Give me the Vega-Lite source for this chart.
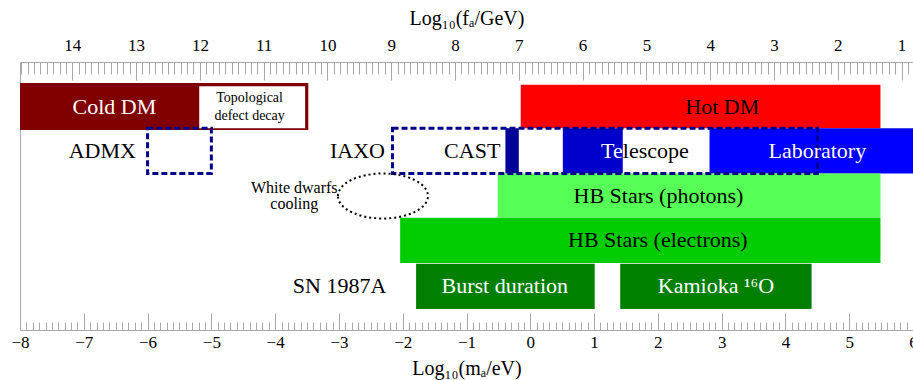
{
  "$schema": "https://vega.github.io/schema/vega-lite/v6.json",
  "width": 893,
  "height": 268,
  "autosize": {"type": "none"},
  "padding": {"left": 20, "top": 62, "right": 0, "bottom": 50},
  "background": "white",
  "config": {
    "view": {"stroke": null},
    "axis": {
      "grid": false,
      "labelFont": "Liberation Serif",
      "labelFontSize": 17,
      "labelColor": "black",
      "titleFont": "Liberation Serif",
      "titleFontSize": 20,
      "titleFontWeight": "normal",
      "titleColor": "black",
      "domainColor": "#a8a8a8",
      "tickColor": "#a8a8a8",
      "domainWidth": 1,
      "tickWidth": 1
    }
  },
  "datasets": {
    "bars": [
      {"name": "Cold DM", "x0": -8, "x1": -3.48, "y0": 1, "y1": 2.04},
      {"name": "Hot DM", "x0": -0.15, "x1": 5.49, "y0": 1.04, "y1": 2.0},
      {"name": "CAST", "x0": -0.39, "x1": -0.18, "y0": 2, "y1": 3},
      {"name": "Telescope", "x0": 0.51, "x1": 1.45, "y0": 2, "y1": 3},
      {"name": "Laboratory", "x0": 2.81, "x1": 6, "y0": 2, "y1": 3},
      {"name": "HB Stars (photons)", "x0": -0.51, "x1": 5.49, "y0": 3, "y1": 3.98},
      {"name": "HB Stars (electrons)", "x0": -2.04, "x1": 5.49, "y0": 3.98, "y1": 4.98},
      {"name": "Burst duration", "x0": -1.79, "x1": 1.01, "y0": 5, "y1": 6},
      {"name": "Kamioka", "x0": 1.41, "x1": 4.41, "y0": 5, "y1": 6}
    ],
    "topoBox": [
      {"name": "Topological defect decay", "x0": -5.19, "x1": -3.53, "y0": 1.07, "y1": 2.0}
    ],
    "searches": [
      {"name": "ADMX", "x0": -6, "x1": -5, "y0": 2, "y1": 3},
      {"name": "IAXO", "x0": -2.16, "x1": 4.5, "y0": 2, "y1": 3}
    ],
    "whiteDwarfs": [
      {"name": "White dwarfs cooling", "x": -2.31, "y": 3.5}
    ],
    "whiteText": [
      {"label": "Cold DM", "x": -6.52, "y": 1.52},
      {"label": "Laboratory", "x": 4.5, "y": 2.5},
      {"label": "Burst duration", "x": -0.4, "y": 5.5},
      {"label": "Kamioka ¹⁶O", "x": 2.91, "y": 5.5}
    ],
    "blackText": [
      {"label": "Hot DM", "x": 3.01, "y": 1.52},
      {"label": "ADMX", "x": -6.71, "y": 2.5},
      {"label": "IAXO", "x": -2.71, "y": 2.5},
      {"label": "CAST", "x": -0.91, "y": 2.5},
      {"label": "HB Stars (photons)", "x": 2.01, "y": 3.49},
      {"label": "HB Stars (electrons)", "x": 2.0, "y": 4.48},
      {"label": "SN 1987A", "x": -2.99, "y": 5.5}
    ],
    "teText": [{"label": "Te", "x": 1.45, "y": 2.5}],
    "lescopeText": [{"label": "lescope", "x": 1.45, "y": 2.5}],
    "topoText": [{"label": "Topological\ndefect decay", "x": -4.4, "y": 1.325}],
    "wdText": [{"label": "White dwarfs\ncooling", "x": -3.7, "y": 3.32}],
    "topAxis": [{"f": 7}]
  },
  "resolve": {"scale": {"x": "independent"}},
  "layer": [
    {
      "data": {"name": "bars"},
      "mark": {"type": "rect"},
      "encoding": {
        "x": {
          "field": "x0", "type": "quantitative",
          "scale": {"domain": [-8, 6], "nice": false, "zero": false},
          "axis": {
            "orient": "bottom",
            "title": "Log₁₀(mₐ/eV)",
            "tickCount": 14,
            "tickSize": -17,
            "labelPadding": 21,
            "labelFlush": false,
            "labelOverlap": false,
            "format": "d",
            "titlePadding": 8
          }
        },
        "x2": {"field": "x1"},
        "y": {
          "field": "y0", "type": "quantitative",
          "scale": {"domain": [0.535, 6.465], "reverse": true, "nice": false, "zero": false},
          "axis": {"orient": "left", "title": null, "labels": false, "ticks": false, "domain": true}
        },
        "y2": {"field": "y1"},
        "color": {
          "field": "name", "type": "nominal",
          "scale": {
            "domain": ["Cold DM", "Hot DM", "CAST", "Telescope", "Laboratory", "HB Stars (photons)", "HB Stars (electrons)", "Burst duration", "Kamioka"],
            "range": ["#800000", "#ff0000", "#000099", "#0000cc", "#0000ff", "#55ff55", "#00cc00", "#007f00", "#007f00"]
          },
          "legend": null
        }
      }
    },
    {
      "data": {"name": "topoBox"},
      "mark": {"type": "rect", "fill": "white"},
      "encoding": {
        "x": {"field": "x0", "type": "quantitative", "scale": {"domain": [-8, 6], "nice": false, "zero": false}, "axis": null},
        "x2": {"field": "x1"},
        "y": {"field": "y0", "type": "quantitative", "scale": {"domain": [0.535, 6.465], "reverse": true, "nice": false, "zero": false}},
        "y2": {"field": "y1"}
      }
    },
    {
      "data": {"name": "searches"},
      "mark": {"type": "rect", "filled": false, "stroke": "#00008b", "strokeWidth": 3, "strokeDash": [6, 3]},
      "encoding": {
        "x": {"field": "x0", "type": "quantitative", "scale": {"domain": [-8, 6], "nice": false, "zero": false}, "axis": null},
        "x2": {"field": "x1"},
        "y": {"field": "y0", "type": "quantitative", "scale": {"domain": [0.535, 6.465], "reverse": true, "nice": false, "zero": false}},
        "y2": {"field": "y1"}
      }
    },
    {
      "data": {"name": "whiteDwarfs"},
      "mark": {"type": "point", "shape": "M -1 0 A 1 0.5 0 1 1 1 0 A 1 0.5 0 1 1 -1 0 Z", "size": 8100, "filled": false, "stroke": "black", "strokeWidth": 2, "strokeDash": [2, 3], "opacity": 1},
      "encoding": {
        "x": {"field": "x", "type": "quantitative", "scale": {"domain": [-8, 6], "nice": false, "zero": false}, "axis": null},
        "y": {"field": "y", "type": "quantitative", "scale": {"domain": [0.535, 6.465], "reverse": true, "nice": false, "zero": false}}
      }
    },
    {
      "data": {"name": "whiteText"},
      "mark": {"type": "text", "font": "Liberation Serif", "fontSize": 22, "color": "white", "align": "center", "baseline": "middle"},
      "encoding": {
        "x": {
          "field": "x", "type": "quantitative",
          "scale": {"domain": [-8, 6], "nice": false, "zero": false},
          "axis": {"orient": "bottom", "title": null, "tickCount": 140, "tickSize": -8, "labels": false, "domain": false}
        },
        "y": {"field": "y", "type": "quantitative", "scale": {"domain": [0.535, 6.465], "reverse": true, "nice": false, "zero": false}},
        "text": {"field": "label"}
      }
    },
    {
      "data": {"name": "blackText"},
      "mark": {"type": "text", "font": "Liberation Serif", "fontSize": 22, "color": "black", "align": "center", "baseline": "middle"},
      "encoding": {
        "x": {"field": "x", "type": "quantitative", "scale": {"domain": [-8, 6], "nice": false, "zero": false}, "axis": null},
        "y": {"field": "y", "type": "quantitative", "scale": {"domain": [0.535, 6.465], "reverse": true, "nice": false, "zero": false}},
        "text": {"field": "label"}
      }
    },
    {
      "data": {"name": "teText"},
      "mark": {"type": "text", "font": "Liberation Serif", "fontSize": 22, "color": "white", "align": "right", "baseline": "middle"},
      "encoding": {
        "x": {"field": "x", "type": "quantitative", "scale": {"domain": [-8, 6], "nice": false, "zero": false}, "axis": null},
        "y": {"field": "y", "type": "quantitative", "scale": {"domain": [0.535, 6.465], "reverse": true, "nice": false, "zero": false}},
        "text": {"field": "label"}
      }
    },
    {
      "data": {"name": "lescopeText"},
      "mark": {"type": "text", "font": "Liberation Serif", "fontSize": 22, "color": "black", "align": "left", "baseline": "middle"},
      "encoding": {
        "x": {"field": "x", "type": "quantitative", "scale": {"domain": [-8, 6], "nice": false, "zero": false}, "axis": null},
        "y": {"field": "y", "type": "quantitative", "scale": {"domain": [0.535, 6.465], "reverse": true, "nice": false, "zero": false}},
        "text": {"field": "label"}
      }
    },
    {
      "data": {"name": "topoText"},
      "mark": {"type": "text", "font": "Liberation Serif", "fontSize": 14, "color": "black", "align": "center", "baseline": "middle", "lineBreak": "\n", "lineHeight": 18},
      "encoding": {
        "x": {"field": "x", "type": "quantitative", "scale": {"domain": [-8, 6], "nice": false, "zero": false}, "axis": null},
        "y": {"field": "y", "type": "quantitative", "scale": {"domain": [0.535, 6.465], "reverse": true, "nice": false, "zero": false}},
        "text": {"field": "label"}
      }
    },
    {
      "data": {"name": "wdText"},
      "mark": {"type": "text", "font": "Liberation Serif", "fontSize": 16, "color": "black", "align": "center", "baseline": "middle", "lineBreak": "\n", "lineHeight": 16.5},
      "encoding": {
        "x": {"field": "x", "type": "quantitative", "scale": {"domain": [-8, 6], "nice": false, "zero": false}, "axis": null},
        "y": {"field": "y", "type": "quantitative", "scale": {"domain": [0.535, 6.465], "reverse": true, "nice": false, "zero": false}},
        "text": {"field": "label"}
      }
    },
    {
      "data": {"name": "topAxis"},
      "mark": {"type": "rule", "opacity": 0},
      "encoding": {
        "x": {
          "field": "f", "type": "quantitative",
          "scale": {"domain": [14.82, 0.82], "nice": false, "zero": false},
          "axis": {
            "orient": "top",
            "title": "Log₁₀(fₐ/GeV)",
            "tickCount": 14,
            "tickSize": -18,
            "labelPadding": 26,
            "labelFlush": false,
            "labelOverlap": false,
            "format": "d",
            "titlePadding": 8
          }
        }
      }
    },
    {
      "data": {"name": "topAxis"},
      "mark": {"type": "rule", "opacity": 0},
      "encoding": {
        "x": {
          "field": "f", "type": "quantitative",
          "scale": {"domain": [14.82, 0.82], "nice": false, "zero": false},
          "axis": {"orient": "top", "title": null, "tickCount": 140, "tickSize": -12, "labels": false, "domain": false}
        }
      }
    }
  ]
}
